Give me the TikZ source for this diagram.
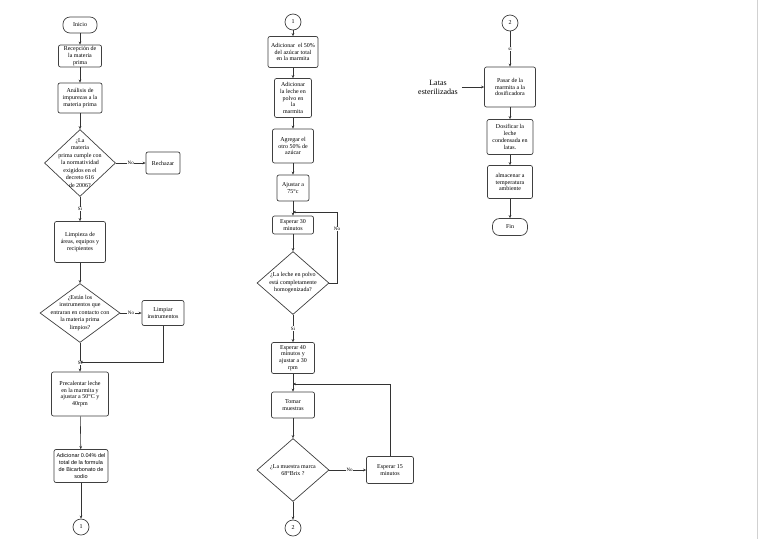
\documentclass[tikz,border=0pt]{standalone}
\usepackage{fontspec}
\setmainfont{Liberation Serif}
\newfontfamily\sansf{Liberation Sans}
\usetikzlibrary{shapes.geometric,arrows.meta}
\begin{document}
\begin{tikzpicture}[x=1pt,y=-1pt,
 box/.style={draw=black!75, line width=0.7pt, rounded corners=2pt, align=center, inner sep=1pt, font=\fontsize{6}{6.9}\selectfont},
 term/.style={draw=black!75, line width=0.7pt, rounded corners=7pt, inner sep=1pt, font=\fontsize{6}{7}\selectfont},
 dia/.style={draw=black!75, line width=0.7pt, diamond, inner sep=0pt},
 dtext/.style={align=center, font=\fontsize{6}{7.5}\selectfont, inner sep=0pt},
 conn/.style={circle, draw=black!75, line width=0.7pt, minimum size=16pt, inner sep=0pt, font=\fontsize{6}{7}\selectfont},
 arr/.style={draw=black!80, line width=0.6pt, -{Stealth[length=3pt,width=2.6pt]}},
 lab/.style={fill=white, inner sep=0.6pt, font=\fontsize{5}{6}\selectfont}
]
\fill[white] (0,0) rectangle (768,539);
\useasboundingbox (0,0) rectangle (768,539);
\draw[black!18, line width=0.5pt] (757,0) -- (757,539);

% ---------- left column ----------
\node[term, minimum width=34pt, minimum height=16pt] (inicio) at (80,25) {Inicio};
\node[box, minimum width=43pt, minimum height=22pt] (rec) at (80,56) {Recepción de\\la materia\\prima};
\node[box, minimum width=44pt, minimum height=30pt] (ana) at (80,98) {Análisis de\\impurezas a la\\materia prima};
\node[dia, minimum width=71pt, minimum height=67pt] (d1) at (80,163) {};
\node[dtext] at (d1) {¿La\\materia\\prima cumple con\\la normatividad\\exigidos en el\\decreto 616\\de 2006?};
\node[box, minimum width=34pt, minimum height=22pt] (rech) at (163,163) {Rechazar};
\node[box, minimum width=51pt, minimum height=41pt] (limp) at (80,242) {Limpieza de\\áreas, equipos y\\recipientes};
\node[dia, minimum width=80pt, minimum height=59pt] (d2) at (80,313) {};
\node[dtext] at (d2) {¿Están los\\instrumentos que\\entraran en contacto con\\la materia prima\\limpios?};
\node[box, minimum width=42pt, minimum height=25pt] (limpi) at (163,313) {Limpiar\\instrumentos};
\coordinate (j1) at (80,362);
\node[box, minimum width=57pt, minimum height=44pt] (prec) at (80,394) {Precalentar leche\\en la marmita y\\ajustar a 50°C y\\40rpm};
\node[box, minimum width=54pt, minimum height=33pt, font=\sansf\fontsize{5.5}{7}\selectfont] (adic) at (81,466) {Adicionar 0.04\% del\\total de la formula\\de Bicarbonato de\\sodio};
\node[conn] (c1) at (81,527) {1};

\draw[arr] (inicio) -- (rec);
\draw[arr] (rec) -- (ana);
\draw[arr] (ana) -- (d1);
\draw[arr] (d1) -- node[lab]{No} (rech);
\draw[arr] (d1) -- node[lab]{Si} (limp);
\draw[arr] (limp) -- (d2);
\draw[arr] (d2) -- node[lab]{No} (limpi);
\draw[arr] (d2) -- node[lab, pos=0.7]{Si} (prec);
\draw[arr] (limpi) |- (j1);
\draw[arr] (prec) -- (adic);
\draw[arr] (adic) -- (c1);

% ---------- middle column ----------
\node[conn] (c1b) at (293,22) {1};
\node[box, minimum width=50pt, minimum height=31pt] (m1) at (293,52) {Adicionar\ \ el 50\%\\del azúcar total\\en la marmita};
\node[box, minimum width=37pt, minimum height=39pt, font=\fontsize{6}{6.7}\selectfont] (m2) at (293,98) {Adicionar\\la leche en\\polvo en\\la\\marmita};
\node[box, minimum width=41pt, minimum height=34pt] (m3) at (293,146) {Agregar el\\otro 50\% de\\azúcar};
\node[box, minimum width=32pt, minimum height=26pt] (m4) at (293,188) {Ajustar a\\75°c};
\node[box, minimum width=41pt, minimum height=18pt] (m5) at (293,225) {Esperar 30\\minutos};
\node[dia, minimum width=72pt, minimum height=63pt] (d3) at (293,283) {};
\node[dtext] at (d3) {¿La leche en polvo\\está completamente\\homogenizada?};
\coordinate (j2) at (293,212);
\coordinate (k2) at (337,212);
\node[box, minimum width=43pt, minimum height=31pt] (m6) at (293,358) {Esperar 40\\minutos y\\ajustar a 30\\rpm};
\node[box, minimum width=43pt, minimum height=26pt] (m7) at (293,405) {Tomar\\muestras};
\node[dia, minimum width=72pt, minimum height=63pt] (d4) at (293,470) {};
\node[dtext] at (d4) {¿La muestra marca\\68°Brix ?};
\node[box, minimum width=47pt, minimum height=27pt] (m8) at (390,470) {Esperar 15\\minutos};
\coordinate (j3) at (293,384);
\coordinate (k3) at (390,384);
\node[conn] (c2) at (293,528) {2};

\draw[arr] (c1b) -- (m1);
\draw[arr] (m1) -- (m2);
\draw[arr] (m2) -- (m3);
\draw[arr] (m3) -- (m4);
\draw[arr] (m4) -- (m5);
\draw[arr] (m5) -- (d3);
\draw[arr] (d3.east) -| (k2) -- (j2);
\node[lab] at (337,229) {No};
\draw[arr] (d3) -- node[lab]{Si} (m6);
\draw[arr] (m6) -- (m7);
\draw[arr] (m7) -- (d4);
\draw[arr] (d4) -- node[lab, pos=0.55]{No} (m8);
\draw[arr] (m8) -- (k3) -- (j3);
\draw[arr] (d4) -- (c2);

% ---------- right column ----------
\node[conn] (c2b) at (510,23) {2};
\node[box, minimum width=51pt, minimum height=40pt] (r1) at (510,87) {Pasar de la\\marmita a la\\dosificadora};
\node[font=\fontsize{8}{9}\selectfont, align=center, inner sep=1pt] (latas) at (438,87) {Latas\\esterilizadas};
\node[box, minimum width=46pt, minimum height=35pt] (r2) at (510,137) {Dosificar la\\leche\\condensada en\\latas.};
\node[box, minimum width=45pt, minimum height=33pt] (r3) at (510,182) {almacenar a\\temperatura\\ambiente};
\node[term, minimum width=35pt, minimum height=17pt] (fin) at (510,227) {Fin};

\draw[arr] (c2b) -- node[lab]{si} (r1);
\draw[arr] ([xshift=3pt]latas.east) -- (r1);
\draw[arr] (r1) -- (r2);
\draw[arr] (r2) -- (r3);
\draw[arr] (r3) -- (fin);
\end{tikzpicture}
\end{document}
